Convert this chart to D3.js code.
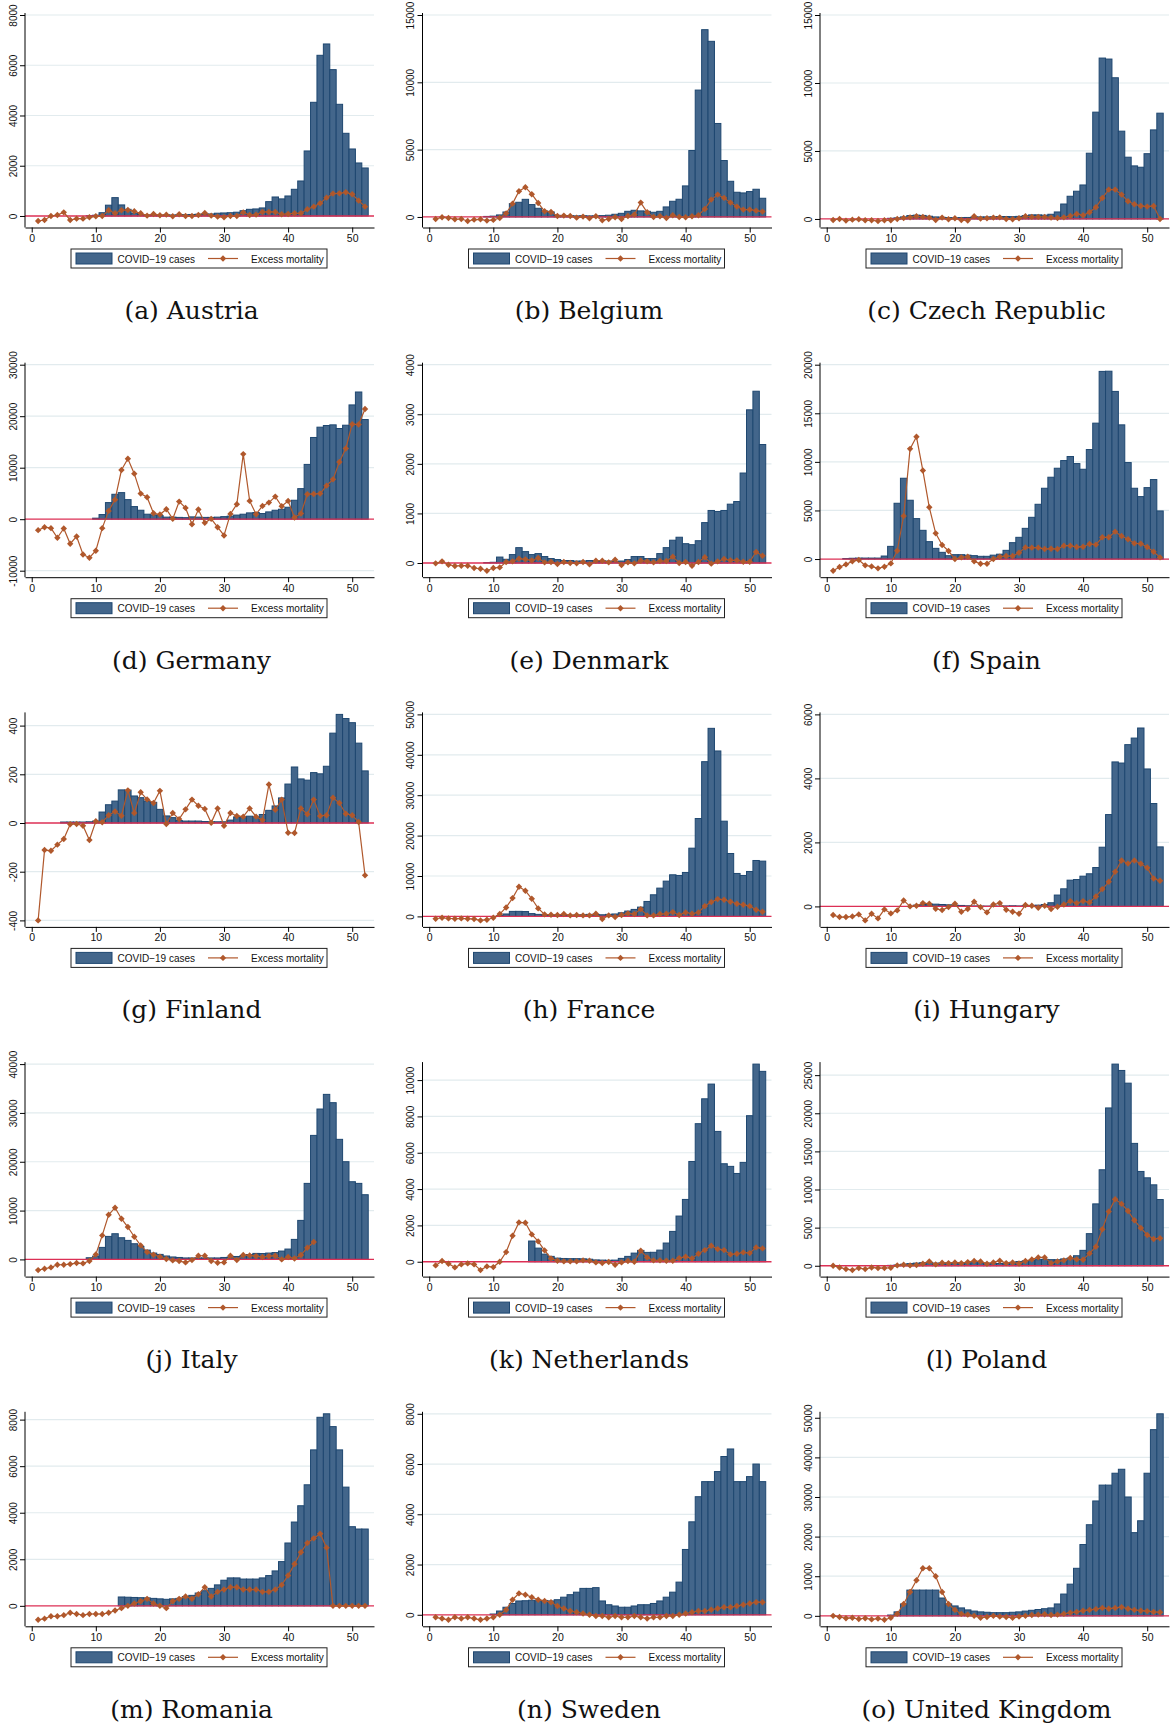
<!DOCTYPE html>
<html>
<head>
<meta charset="utf-8">
<script src="https://cdn.jsdelivr.net/npm/d3@7"></script>
<style>
  body { margin: 0; background: #fff; }
  svg { display: block; }
</style>
</head>
<body>
<svg id="chart" width="1172" height="1728"></svg>
<script>
// Weekly COVID-19 cases and excess mortality, weeks 1-52 of 2020
const weeks = d3.range(1, 53);
const xTicks = [0, 10, 20, 30, 40, 50];

const casesAustria = [0,0,0,0,0,0,0,0,10,30,130,430,730,440,265,110,60,40,30,30,40,40,50,50,60,70,80,80,110,120,130,150,210,265,280,320,570,756,680,796,1062,1393,2588,4525,6396,6847,5825,4445,3291,2667,2110,1911];
const excessAustria = [-200,-160,0,40,145,-160,-106,-106,-53,-13,0,225,106,225,240,186,106,13,80,27,53,-13,66,0,0,40,120,13,-27,-53,0,0,145,40,53,160,160,160,66,80,106,106,265,372,504,730,890,900,942,862,610,372];
const ticksAustria = [0, 2000, 4000, 6000, 8000];

const casesBelgium = [0,0,0,0,0,0,0,0,40,60,150,370,990,1090,1310,920,645,446,372,120,100,90,80,90,80,80,100,130,200,270,420,496,450,420,347,420,745,1165,1315,2306,4935,9424,13910,13045,6944,4190,2650,1835,1785,1885,2058,1389];
const excessBelgium = [-150,-25,-75,-175,-150,-300,-200,-175,-270,-220,-75,270,990,1910,2210,1690,1040,420,370,75,100,75,-50,25,-100,50,-250,-150,-25,-150,75,175,1065,347,0,50,-75,125,0,-25,50,125,595,1290,1660,1415,1065,770,545,545,470,400];
const ticksBelgium = [0, 5000, 10000, 15000];

const casesCzech = [0,0,0,0,0,0,0,0,0,50,80,150,250,280,260,200,150,120,100,80,100,110,150,150,150,160,180,180,170,190,250,300,300,280,345,515,1100,1670,2040,2500,4836,7856,11833,11760,10385,6457,4542,3903,3805,4800,6550,7780];
const excessCzech = [-75,0,-120,-50,-25,-100,-100,-150,-100,-100,0,75,120,195,150,100,-75,100,-25,50,-75,-120,195,25,50,100,120,0,-25,50,195,150,150,150,100,75,120,220,370,270,490,860,1545,2160,2160,1790,1300,1080,957,910,957,0];
const ticksCzech = [0, 5000, 10000, 15000];

const casesGermany = [0,0,0,0,0,0,0,0,0,200,900,3225,4840,5160,3800,2450,1740,970,840,700,400,400,350,300,450,400,350,350,400,500,600,800,970,1225,1300,1100,1420,1740,1935,2320,3680,5935,10640,15870,17870,18190,18320,17610,18250,22190,24700,19350];
const excessGermany = [-2130,-1550,-1740,-3610,-1800,-4770,-3350,-6840,-7480,-6130,-1740,1610,3800,9550,11740,8840,4970,4260,1160,900,1935,65,3420,2190,-970,1870,-710,65,-1550,-3160,1030,2900,12640,3550,970,2580,3225,4390,2520,3550,320,1100,4840,4900,4970,6515,7740,11100,13740,18450,18380,21410];
const ticksGermany = [-10000, 0, 10000, 20000, 30000];

const casesDenmark = [0,0,0,0,0,0,0,0,10,15,120,75,170,310,230,170,190,130,90,70,50,50,40,40,50,50,40,40,30,40,70,130,130,90,90,190,310,460,520,390,370,450,815,1060,1040,1060,1187,1240,1815,3090,3465,2390];
const excessDenmark = [-7,34,-34,-60,-54,-54,-100,-115,-155,-100,-88,20,34,88,74,54,100,13,20,-20,20,0,-7,20,-27,47,47,13,67,-40,13,-7,47,34,13,40,40,128,0,20,-54,20,115,-13,34,81,54,54,27,27,222,148];
const ticksDenmark = [0, 1000, 2000, 3000, 4000];

const casesSpain = [0,0,50,80,100,100,100,100,310,1305,5740,8315,6050,4160,2955,1790,1100,690,345,450,450,400,350,280,280,400,500,895,1685,2235,3160,4295,5635,7285,8420,9345,10135,10550,9825,9240,11270,13985,19310,19330,17250,13810,9930,7285,6425,7350,8180,4950];
const excessSpain = [-1200,-825,-550,-240,-100,-650,-755,-960,-790,-450,860,4430,11340,12580,9105,5325,2645,1445,825,0,170,240,-240,-480,-480,0,240,310,310,650,1200,1170,1170,1030,1065,1030,1375,1375,1235,1270,1545,1480,2235,2235,2820,2370,2030,1615,1580,1235,755,170];
const ticksSpain = [0, 5000, 10000, 15000, 20000];

const casesFinland = [0,0,0,0,4,4,4,4,5,8,45,75,90,136,135,111,104,90,85,56,29,22,10,8,8,8,6,5,5,5,12,25,22,28,25,35,52,70,103,160,230,181,176,207,202,233,369,446,429,412,328,214];
const excessFinland = [-400,-111,-114,-89,-66,-5,-4,-11,-70,7,3,32,47,30,134,41,126,97,82,132,-4,41,16,56,96,71,58,1,60,-11,41,29,26,60,26,12,158,54,96,-40,-41,60,36,96,29,32,104,82,38,32,4,-215];
const ticksFinland = [-400, -200, 0, 200, 400];

const casesFrance = [0,0,0,0,0,0,0,0,0,0,200,600,1240,1250,1200,700,500,400,350,300,300,300,300,400,500,500,400,500,600,900,1320,1730,2300,3700,5350,7000,8730,10300,10135,10880,16890,24225,38300,46550,40950,23570,15570,10630,10135,11120,13840,13680];
const excessFrance = [-580,-330,-500,-580,-500,-580,-660,-990,-820,-330,580,2220,4530,7330,6340,4370,1980,490,410,330,580,250,330,250,250,660,-660,250,-165,330,740,580,1810,250,250,580,660,1070,330,990,660,990,2550,3540,4285,4120,3625,3130,2885,2550,1650,1150];
const ticksFrance = [0, 10000, 20000, 30000, 40000, 50000];

const casesHungary = [0,0,0,0,0,0,0,0,0,0,0,0,0,40,60,70,70,60,50,40,30,20,15,10,10,10,10,15,20,15,25,30,40,60,115,355,550,820,840,945,1020,1215,1850,2870,4515,4480,5055,5260,5575,4295,3215,1860];
const excessHungary = [-270,-333,-333,-312,-250,-437,-229,-374,-94,-218,-125,187,0,21,104,83,-73,-114,-21,83,-166,-83,146,-21,-187,62,104,-104,-166,-229,42,21,-42,21,-83,-10,62,166,104,166,125,312,541,770,1082,1435,1342,1435,1331,1206,874,800];
const ticksHungary = [0, 2000, 4000, 6000];

const casesItaly = [0,0,0,0,0,0,0,0,340,680,2460,4710,5260,4440,3890,3210,2665,1910,1300,1025,700,500,400,300,300,300,300,300,300,400,500,600,800,1000,1230,1200,1300,1400,1710,2120,4100,7990,15570,25400,30800,33800,32100,24590,20010,15910,15570,13250];
const excessItaly = [-2190,-1910,-1640,-1090,-1090,-960,-750,-820,-340,1025,4920,9150,10590,8330,6630,4640,2870,1500,960,550,70,-200,-340,-610,-140,750,750,-340,-680,-610,750,-140,890,820,680,480,680,750,0,480,200,890,2390,3550,null,null,null,null,null,null,null,null];
const ticksItaly = [0, 10000, 20000, 30000, 40000];

const casesNetherlands = [0,0,0,0,0,0,0,0,0,0,0,0,0,0,0,1140,750,420,295,200,180,170,170,160,140,100,90,80,90,185,295,475,625,515,520,640,1030,1670,2515,3430,5520,7600,8970,9780,7175,5395,5250,4860,5470,8040,10880,10480];
const excessNetherlands = [-200,37,-110,-310,-147,-92,-147,-460,-257,-294,0,532,1430,2165,2147,1505,1120,624,184,55,18,18,18,73,55,-37,-73,-18,-165,-37,37,0,605,240,73,73,55,55,200,275,184,440,642,880,697,642,404,440,514,477,790,734];
const ticksNetherlands = [0, 2000, 4000, 6000, 8000, 10000];

const casesPoland = [0,0,0,0,0,0,0,0,0,50,100,200,280,350,400,450,350,350,350,350,370,400,400,400,350,300,300,350,450,550,650,700,800,850,800,790,900,1000,1315,2020,4210,8115,12590,20700,26450,25615,23950,16050,12370,11535,10615,8685];
const excessPoland = [0,-220,-440,-570,-310,-440,-220,-310,-310,-260,45,130,45,90,265,570,175,395,350,440,350,480,615,570,265,440,660,350,440,305,615,835,1095,1095,350,570,700,1010,835,790,1620,2500,4780,7100,8730,8115,7190,5965,4955,4035,3510,3600];
const ticksPoland = [0, 5000, 10000, 15000, 20000, 25000];

const casesRomania = [0,0,0,0,0,0,0,0,0,0,0,0,0,380,370,360,350,340,320,300,280,300,320,400,450,550,650,750,900,1100,1200,1200,1150,1150,1150,1200,1300,1500,1900,2700,3600,4300,5200,6700,8100,8250,7700,6700,5100,3400,3300,3300];
const excessRomania = [-600,-550,-450,-450,-400,-300,-350,-400,-350,-350,-350,-300,-200,-100,0,100,200,300,100,0,-100,200,300,400,300,500,800,400,600,700,800,800,700,700,700,600,600,700,900,1300,1800,2300,2700,2900,3100,2500,0,0,0,0,0,0];
const ticksRomania = [0, 2000, 4000, 6000, 8000];

const casesSweden = [0,0,0,0,0,0,0,0,0,30,150,300,450,550,560,580,560,570,550,600,700,800,900,1050,1050,1080,550,400,350,300,300,350,400,400,450,550,700,900,1300,2600,3700,4700,5300,5300,5700,6300,6600,5300,5300,5500,6000,5300];
const excessSweden = [-100,-150,-200,-100,-150,-100,-150,-200,-150,-100,0,200,600,850,800,700,600,550,500,350,250,150,100,50,0,-50,-50,-100,-50,-100,-100,-50,-100,-150,-100,-100,-50,-50,0,50,100,150,150,200,250,300,300,350,400,450,500,500];
const ticksSweden = [0, 2000, 4000, 6000, 8000];

const casesUK = [0,0,0,0,0,0,0,0,0,200,1000,3000,6500,6500,6500,6500,6500,4500,3000,2500,2000,1500,1200,1000,900,800,800,800,900,1000,1200,1400,1600,1800,2000,3000,5500,8000,12000,18000,23000,29000,33000,33000,36000,37000,30000,21000,24000,36000,47000,51000];
const excessUK = [0,-300,-600,-500,-800,-600,-900,-700,-1000,-500,500,3000,6000,9000,12000,12000,10000,6000,3000,1500,500,300,0,-500,-300,0,-200,-300,-500,-200,0,200,300,400,200,300,500,800,1000,1300,1500,1700,2000,1800,2000,2200,1800,1500,1300,1200,1000,900];
const ticksUK = [0, 10000, 20000, 30000, 40000, 50000];

const panels = [
  { label: "(a) Austria",        cases: casesAustria,     excess: excessAustria,     ticks: ticksAustria },
  { label: "(b) Belgium",        cases: casesBelgium,     excess: excessBelgium,     ticks: ticksBelgium },
  { label: "(c) Czech Republic", cases: casesCzech,       excess: excessCzech,       ticks: ticksCzech },
  { label: "(d) Germany",        cases: casesGermany,     excess: excessGermany,     ticks: ticksGermany },
  { label: "(e) Denmark",        cases: casesDenmark,     excess: excessDenmark,     ticks: ticksDenmark },
  { label: "(f) Spain",          cases: casesSpain,       excess: excessSpain,       ticks: ticksSpain },
  { label: "(g) Finland",        cases: casesFinland,     excess: excessFinland,     ticks: ticksFinland },
  { label: "(h) France",         cases: casesFrance,      excess: excessFrance,      ticks: ticksFrance },
  { label: "(i) Hungary",        cases: casesHungary,     excess: excessHungary,     ticks: ticksHungary },
  { label: "(j) Italy",          cases: casesItaly,       excess: excessItaly,       ticks: ticksItaly },
  { label: "(k) Netherlands",    cases: casesNetherlands, excess: excessNetherlands, ticks: ticksNetherlands },
  { label: "(l) Poland",         cases: casesPoland,      excess: excessPoland,      ticks: ticksPoland },
  { label: "(m) Romania",        cases: casesRomania,     excess: excessRomania,     ticks: ticksRomania },
  { label: "(n) Sweden",         cases: casesSweden,      excess: excessSweden,      ticks: ticksSweden },
  { label: "(o) United Kingdom", cases: casesUK,          excess: excessUK,          ticks: ticksUK }
];

// Styling
const barFill = "#43668b";
const barStroke = "#1e4770";
const lineColor = "#b0582c";
const zeroColor = "#dc2f55";
const gridColor = "#e2ebee";
const sans = "'Liberation Sans', Arial, sans-serif";
const serif = "'DejaVu Serif', serif";

const svg = d3.select("#chart");
const colX = [0, 397.5, 795];
const rowH = 349.7;

function diamond(sel, r) {
  sel.attr("d", `M0,${-r}L${r},0L0,${r}L${-r},0Z`);
}

panels.forEach((p, i) => {
  const col = i % 3, row = Math.floor(i / 3);
  const ox = colX[col], oy = row * rowH;
  const left = ox + 25, right = ox + 374;
  const frameTop = oy + 13, axisY = oy + 227.5;

  const x = d3.scaleLinear().domain([-1.05, 53.4]).range([left, right]);
  const vals = p.cases.concat(p.excess.filter(v => v != null));
  const lo = Math.min(d3.min(vals), d3.min(p.ticks));
  const hi = Math.max(d3.max(vals), d3.max(p.ticks));
  const y = d3.scaleLinear().domain([lo, hi]).range([oy + 221, oy + 15]);

  const g = svg.append("g").attr("class", "panel");

  // horizontal grid
  g.append("g").selectAll("line")
    .data(p.ticks.filter(t => t !== 0))
    .join("line")
    .attr("x1", left).attr("x2", right)
    .attr("y1", d => y(d)).attr("y2", d => y(d))
    .attr("stroke", gridColor).attr("stroke-width", 1.2);

  // weekly case bars
  const bw = x(1) - x(0);
  g.append("g").selectAll("rect")
    .data(weeks.filter(w => p.cases[w - 1] > 0))
    .join("rect")
    .attr("x", w => x(w) - bw / 2)
    .attr("width", bw)
    .attr("y", w => y(p.cases[w - 1]))
    .attr("height", w => y(0) - y(p.cases[w - 1]))
    .attr("fill", barFill)
    .attr("stroke", barStroke)
    .attr("stroke-width", 1);

  // zero reference line
  g.append("line")
    .attr("x1", left).attr("x2", right)
    .attr("y1", y(0)).attr("y2", y(0))
    .attr("stroke", zeroColor).attr("stroke-width", 1.3);

  // excess mortality line with diamond markers
  const pts = weeks.map(w => ({ w, v: p.excess[w - 1] })).filter(d => d.v != null);
  const line = d3.line().x(d => x(d.w)).y(d => y(d.v));
  g.append("path")
    .attr("d", line(pts))
    .attr("fill", "none")
    .attr("stroke", lineColor)
    .attr("stroke-width", 1.2);
  g.append("g").selectAll("path")
    .data(pts)
    .join("path")
    .call(diamond, 3.2)
    .attr("transform", d => `translate(${x(d.w)},${y(d.v)})`)
    .attr("fill", lineColor);

  // axes
  const yAxis = d3.axisLeft(y).tickValues(p.ticks).tickSize(5).tickSizeOuter(0).tickFormat(d => String(d));
  const ya = g.append("g").attr("transform", `translate(${left},0)`).call(yAxis);
  ya.select(".domain").remove();
  ya.selectAll("text")
    .attr("transform", "rotate(-90)")
    .attr("x", 0).attr("y", -8.5).attr("dy", 0)
    .attr("text-anchor", "middle")
    .style("font-family", sans).style("font-size", "10px").attr("fill", "#111");
  ya.selectAll(".tick line").attr("stroke", "#000");
  g.append("line")
    .attr("x1", left).attr("x2", left)
    .attr("y1", frameTop).attr("y2", axisY)
    .attr("stroke", "#000").attr("stroke-width", 1);

  const xAxis = d3.axisBottom(x).tickValues(xTicks).tickSize(5).tickSizeOuter(0);
  const xa = g.append("g").attr("transform", `translate(0,${axisY})`).call(xAxis);
  xa.select(".domain").attr("stroke", "#000");
  xa.selectAll(".tick line").attr("stroke", "#000");
  xa.selectAll("text")
    .attr("y", 7)
    .style("font-family", sans).style("font-size", "10.5px").attr("fill", "#111");

  // legend
  const cx = (left + right) / 2;
  const ly = oy + 249;
  const lg = g.append("g");
  lg.append("rect")
    .attr("x", cx - 128.5).attr("y", ly).attr("width", 256).attr("height", 19)
    .attr("fill", "#fff").attr("stroke", "#222").attr("stroke-width", 1);
  lg.append("rect")
    .attr("x", cx - 123.5).attr("y", ly + 4).attr("width", 36).attr("height", 11)
    .attr("fill", barFill).attr("stroke", barStroke).attr("stroke-width", 1);
  lg.append("text")
    .attr("x", cx - 82).attr("y", ly + 13.5)
    .style("font-family", sans).style("font-size", "10px").attr("fill", "#111")
    .text("COVID\u221219 cases");
  lg.append("line")
    .attr("x1", cx + 8.5).attr("x2", cx + 38.5)
    .attr("y1", ly + 9.5).attr("y2", ly + 9.5)
    .attr("stroke", lineColor).attr("stroke-width", 1.2);
  lg.append("path").call(diamond, 3.2)
    .attr("transform", `translate(${cx + 23.5},${ly + 9.5})`)
    .attr("fill", lineColor);
  lg.append("text")
    .attr("x", cx + 51.5).attr("y", ly + 13.5)
    .style("font-family", sans).style("font-size", "10px").attr("fill", "#111")
    .text("Excess mortality");

  // sub-caption
  g.append("text")
    .attr("x", cx - 8).attr("y", oy + 319)
    .attr("text-anchor", "middle")
    .style("font-family", serif).style("font-size", "25px").attr("fill", "#111")
    .text(p.label);
});
</script>
</body>
</html>
